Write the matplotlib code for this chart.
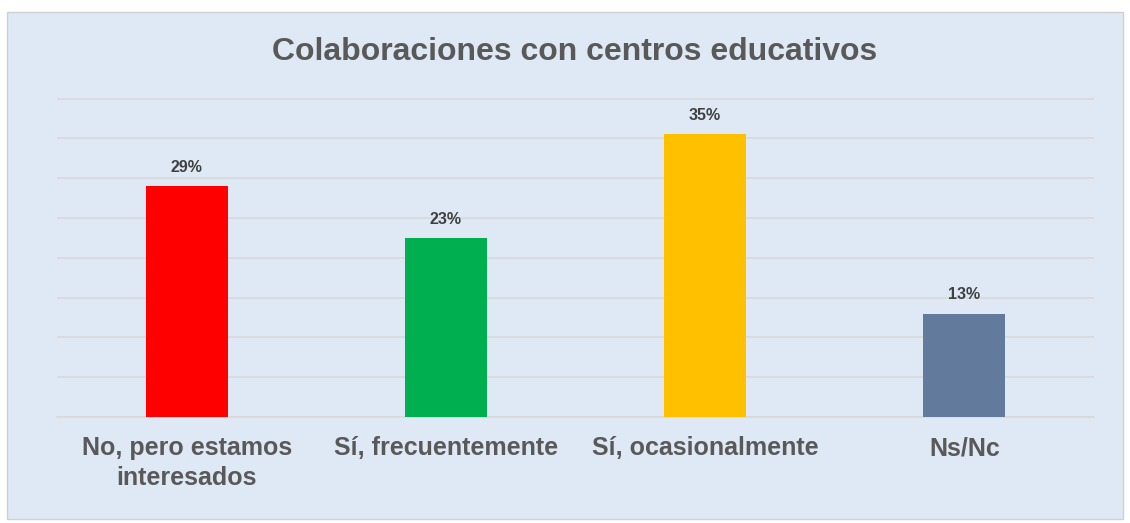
import matplotlib.pyplot as plt
from matplotlib.patches import Rectangle

plt.rcParams['font.family'] = ['Liberation Sans', 'DejaVu Sans']

# Data
categories = ['No, pero estamos\ninteresados', 'Sí, frecuentemente', 'Sí, ocasionalmente', 'Ns/Nc']
values = [29, 22.5, 35.5, 13]
labels = ['29%', '23%', '35%', '13%']
colors = ['#ff0000', '#00b050', '#ffc000', '#627b9c']

bg = '#dee9f5'

fig = plt.figure(figsize=(11.3, 5.23), dpi=100, facecolor='white')

# chart box
fig.patches.append(Rectangle((7 / 1130, 1 - 519 / 523), 1116 / 1130, 507 / 523,
                             transform=fig.transFigure, facecolor=bg,
                             edgecolor='#d0d0d0', linewidth=1, zorder=-5))

ax = fig.add_axes([57 / 1130, 1 - 417 / 523, 1037 / 1130, 320 / 523])
ax.set_zorder(2)
ax.patch.set_alpha(0)

x = range(len(categories))
ax.bar(x, values, width=0.317, color=colors, zorder=3)

for i, (v, lab) in enumerate(zip(values, labels)):
    ax.text(i, v + 1.4, lab, ha='center', va='bottom', fontsize=11.5,
            fontweight='bold', color='#404040')

ax.set_xlim(-0.5, len(categories) - 0.5)
ax.set_ylim(0, 40.2)
ax.set_yticks(range(0, 41, 5))
ax.yaxis.grid(True, color='#d9d9d9', linewidth=1.2, zorder=1)
ax.tick_params(axis='y', left=False, labelleft=False)
ax.tick_params(axis='x', length=0, pad=14)
ax.set_xticks(list(x))
ax.set_xticklabels(categories, fontsize=18, fontweight='bold', color='#595959',
                   linespacing=1.3)
for s in ['top', 'right', 'left']:
    ax.spines[s].set_visible(False)
ax.spines['bottom'].set_color('#d9d9d9')
ax.spines['bottom'].set_linewidth(1.2)

fig.text(575 / 1130, 1 - 52 / 523, 'Colaboraciones con centros educativos',
         ha='center', va='center', fontsize=23, fontweight='bold', color='#595959')

fig.savefig('out.png', dpi=100, facecolor='white')
